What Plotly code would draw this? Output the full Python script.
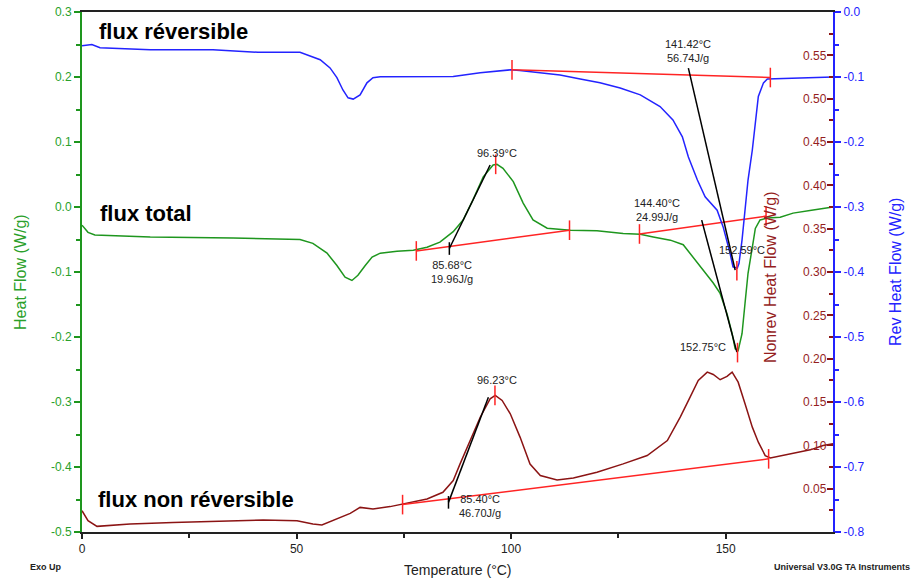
import plotly.graph_objects as go

# ---------------- data ----------------
rev_T = [0, 2.3, 4.2, 15.9, 30.5, 41.0, 50.8, 55.5, 57.8, 59.4, 60.8, 62.0, 63.2, 64.8, 66.4,
         67.8, 69.5, 86.5, 92.8, 97.4, 99.8, 102.0, 106.8, 111.4, 116.1, 120.7, 125.4, 130.1,
         134.7, 137.7, 139.9, 141.3, 143.4, 145.2, 148.0, 149.4, 151.0, 151.7, 152.7, 153.1,
         153.8, 154.5, 155.2, 156.2, 156.9, 157.6, 158.8, 159.7, 175.0]
rev_flow = [-0.052, -0.050, -0.055, -0.058, -0.058, -0.062, -0.062, -0.0735, -0.086, -0.101,
            -0.120, -0.132, -0.134, -0.1275, -0.109, -0.101, -0.0998, -0.0993, -0.0936, -0.090,
            -0.089, -0.090, -0.094, -0.097, -0.103, -0.109, -0.117, -0.1275, -0.1455, -0.166,
            -0.192, -0.223, -0.2585, -0.2843, -0.305, -0.3306, -0.371, -0.392, -0.394, -0.3865,
            -0.351, -0.3095, -0.2585, -0.2123, -0.1707, -0.130, -0.109, -0.103, -0.100]

total_T = [0, 1.4, 3.0, 15.9, 35.2, 50.8, 53.8, 57.1, 59.4, 61.3, 62.9, 64.3, 66.0, 67.6, 69.5,
           73.4, 77.2, 80.4, 83.4, 86.5, 88.8, 91.1, 93.5, 95.8, 96.7, 98.1, 100.5, 102.8, 105.1,
           108.4, 113.8, 120.0, 126.1, 130.1, 133.1, 137.1, 140.1, 142.4, 144.8, 147.1, 148.7,
           150.3, 151.5, 152.2, 152.9, 153.8, 154.5, 155.2, 156.2, 156.9, 158.0, 159.7, 162.7,
           165.7, 170.0, 175.0]
total_flow = [-0.028, -0.039, -0.043, -0.046, -0.0475, -0.050, -0.056, -0.071, -0.090, -0.108,
              -0.113, -0.105, -0.090, -0.077, -0.071, -0.068, -0.0665, -0.062, -0.054, -0.038,
              -0.020, 0.011, 0.0465, 0.0646, 0.0656, 0.0595, 0.039, 0.006, -0.020, -0.0326,
              -0.0357, -0.0367, -0.0407, -0.0418, -0.046, -0.051, -0.058, -0.0768, -0.097,
              -0.117, -0.133, -0.164, -0.195, -0.218, -0.221, -0.195, -0.148, -0.102, -0.062,
              -0.033, -0.020, -0.017, -0.0156, -0.0094, -0.005, 0.000]

nonrev_T = [0, 1.4, 3.5, 11.2, 21.2, 42.2, 50.1, 53.8, 55.9, 59.4, 62.5, 64.8, 67.8, 71.8, 74.8,
            80.4, 84.1, 86.5, 88.1, 90.4, 92.8, 95.1, 96.3, 97.9, 99.8, 102.1, 104.4, 106.8,
            110.7, 114.5, 120.0, 126.1, 131.7, 136.4, 139.4, 141.7, 143.6, 145.7, 147.1, 148.7,
            150.3, 151.5, 152.9, 154.5, 156.2, 157.6, 159.2, 160.4, 165.0, 169.7, 172.7, 175.0]
nonrev_flow = [0.0246, 0.0131, 0.0065, 0.0092, 0.0111, 0.0139, 0.0131, 0.0092, 0.0081, 0.015,
               0.0215, 0.0284, 0.0266, 0.0293, 0.0323, 0.0381, 0.0458, 0.0593, 0.0786, 0.1056,
               0.1324, 0.1537, 0.1576, 0.1518, 0.1364, 0.1092, 0.0784, 0.0651, 0.0601, 0.0624,
               0.0689, 0.0786, 0.0882, 0.1055, 0.1325, 0.1556, 0.1749, 0.1845, 0.1818, 0.1757,
               0.1795, 0.1845, 0.1729, 0.148, 0.121, 0.1036, 0.0882, 0.0855, 0.0902, 0.0948,
               0.0998, 0.1017]

# integration baselines (start/end) and tangents
rev_base_T, rev_base_v = [100.2, 160.4], [-0.089, -0.1008]
tot_base1_T, tot_base1_v = [77.9, 113.6], [-0.0676, -0.0357]
tot_base2_T, tot_base2_v = [129.9, 159.4], [-0.0415, -0.014]
nr_base_T, nr_base_v = [74.7, 160.0], [0.0316, 0.0844]

rev_tan_T, rev_tan_v = [141.3, 152.2], [-0.0863, -0.397]
tot_tan1_T, tot_tan1_v = [85.6, 95.1], [-0.0639, 0.0646]
tot_tan2_T, tot_tan2_v = [144.4, 152.6], [-0.0202, -0.2233]
nr_tan_T, nr_tan_v = [85.4, 94.7], [0.0342, 0.1556]

rev_peak = (152.6, -0.398)
tot_peaks_T, tot_peaks_v = [96.4, 152.75], [0.0656, -0.224]
nr_peak = (96.23, 0.1576)

left_ticks = [-0.5, -0.4, -0.3, -0.2, -0.1, 0.0, 0.1, 0.2, 0.3]
rev_ticks = [-0.8, -0.7, -0.6, -0.5, -0.4, -0.3, -0.2, -0.1, 0.0]
nonrev_ticks = [0.05, 0.10, 0.15, 0.20, 0.25, 0.30, 0.35, 0.40, 0.45, 0.50, 0.55]
x_ticks = [0, 50, 100, 150]

# ---------------- styles ----------------
GREEN = "#1E961E"
GREEN_TXT = "#2A9F2A"
BLUE = "#2323FF"
DRED = "#8B1414"
DRED_TXT = "#951E1E"
RED = "#FF2424"
FONT = "Liberation Sans"

fig = go.Figure()

def line(x, y, color, axis, w=1.5):
    fig.add_trace(go.Scatter(x=x, y=y, mode="lines", yaxis=axis,
                             line=dict(color=color, width=w), hoverinfo="skip"))

def ticks(x, y, color, axis, size=14):
    fig.add_trace(go.Scatter(x=x, y=y, mode="markers", yaxis=axis, hoverinfo="skip",
                             marker=dict(symbol="line-ns", size=size,
                                         line=dict(color=color, width=1.5))))

line(rev_T, rev_flow, BLUE, "y2")
line(total_T, total_flow, GREEN, "y")
line(nonrev_T, nonrev_flow, DRED, "y3")

line(rev_base_T, rev_base_v, RED, "y2")
line(tot_base1_T, tot_base1_v, RED, "y")
line(tot_base2_T, tot_base2_v, RED, "y")
line(nr_base_T, nr_base_v, RED, "y3")

line(rev_tan_T, rev_tan_v, "black", "y2")
line(tot_tan1_T, tot_tan1_v, "black", "y")
line(tot_tan2_T, tot_tan2_v, "black", "y")
line(nr_tan_T, nr_tan_v, "black", "y3")

ticks(rev_base_T + [rev_peak[0]], rev_base_v + [rev_peak[1]], RED, "y2")
ticks(tot_base1_T + tot_base2_T + tot_peaks_T, tot_base1_v + tot_base2_v + tot_peaks_v, RED, "y")
ticks(nr_base_T + [nr_peak[0]], nr_base_v + [nr_peak[1]], RED, "y3")
ticks([tot_tan1_T[0]], [tot_tan1_v[0]], "black", "y", 9)
ticks([nr_tan_T[0]], [nr_tan_v[0]], "black", "y3", 9)

fig.update_layout(
    width=914, height=579,
    margin=dict(l=82, r=81, t=12, b=47, autoexpand=False),
    plot_bgcolor="white", paper_bgcolor="white",
    showlegend=False,
    font=dict(family=FONT),
    xaxis=dict(range=[0, 175], tickmode="array", tickvals=x_ticks, automargin=False,
               ticks="outside", ticklen=5, tickwidth=1.5, tickcolor="#222",
               minor=dict(dtick=25, tick0=0, ticks="outside", ticklen=4, tickcolor="#222"),
               showline=True, linecolor="#222", linewidth=1.5, mirror=True,
               showgrid=False, zeroline=False,
               tickfont=dict(family=FONT, size=12, color="#222")),
    yaxis=dict(range=[-0.5, 0.3], tickmode="array", tickvals=left_ticks, automargin=False,
               ticktext=[f"{v:.1f}" for v in left_ticks],
               ticks="outside", ticklen=6, tickwidth=1.5, tickcolor=GREEN,
               minor=dict(dtick=0.05, tick0=0, ticks="outside", ticklen=4, tickcolor=GREEN),
               showline=True, linecolor=GREEN, linewidth=2,
               showgrid=False, zeroline=False,
               tickfont=dict(family=FONT, size=12, color=GREEN_TXT)),
    yaxis2=dict(range=[-0.8, 0.0], overlaying="y", side="right", anchor="x", automargin=False,
                tickmode="array", tickvals=rev_ticks,
                ticktext=[f"{v:.1f}" for v in rev_ticks],
                ticks="outside", ticklen=6, tickwidth=1.5, tickcolor=BLUE,
                minor=dict(dtick=0.05, tick0=0, ticks="outside", ticklen=4, tickcolor=BLUE),
                showline=True, linecolor=BLUE, linewidth=2,
                showgrid=False, zeroline=False,
                tickfont=dict(family=FONT, size=12, color=BLUE)),
    yaxis3=dict(range=[0.0, 0.6], overlaying="y", side="right", anchor="x", automargin=False,
                tickmode="array", tickvals=nonrev_ticks,
                ticktext=[f"{v:.2f}" for v in nonrev_ticks],
                ticks="inside", ticklabelposition="inside", ticklen=6, tickwidth=1.5,
                tickcolor=DRED,
                minor=dict(dtick=0.025, tick0=0, ticks="inside", ticklen=4, tickcolor=DRED),
                showline=False, showgrid=False, zeroline=False,
                tickfont=dict(family=FONT, size=12, color=DRED_TXT)),
)

ann = []
def txt(text, x, y, xref="paper", yref="paper", size=11, color="#222", xanchor="center",
        yanchor="middle", bold=False, angle=0):
    ann.append(dict(text=f"<b>{text}</b>" if bold else text, x=x, y=y, xref=xref, yref=yref,
                    showarrow=False, xanchor=xanchor, yanchor=yanchor, textangle=angle,
                    font=dict(family=FONT, size=size, color=color)))

# curve names
txt("flux réversible", 0.02, 0.962, size=22, color="black", xanchor="left", bold=True)
txt("flux total", 0.021, 0.612, size=22, color="black", xanchor="left", bold=True)
txt("flux non réversible", 0.018, 0.063, size=22, color="black", xanchor="left", bold=True)

# axis titles
txt("Heat Flow (W/g)", -0.0826, 0.5, size=16, color=GREEN_TXT, angle=-90)
txt("Nonrev Heat Flow (W/g)", 0.916, 0.49, size=16, color=DRED_TXT, angle=-90)
txt("Rev Heat Flow (W/g)", 1.0826, 0.5, size=16, color=BLUE, angle=-90)
txt("Temperature (°C)", 0.5, -0.0737, size=14, color="#222")
txt("Exo Up", -0.072, -0.068, size=9, color="#222", xanchor="left", bold=True)
txt("Universal V3.0G TA Instruments", 1.105, -0.068, size=9, color="#222",
    xanchor="right", bold=True)

# analysis labels
txt("141.42°C<br>56.74J/g", 141.3, -0.0597, "x", "y2")
txt("152.59°C", 153.8, -0.3665, "x", "y2")
txt("96.39°C", 96.7, 0.083, "x", "y")
txt("85.68°C<br>19.96J/g", 86.2, -0.0996, "x", "y")
txt("144.40°C<br>24.99J/g", 134.0, -0.0048, "x", "y")
txt("152.75°C", 150.6, -0.216, "x", "y", xanchor="right")
txt("96.23°C", 96.7, 0.1749, "x", "y3")
txt("85.40°C<br>46.70J/g", 87.4, 0.0298, "x", "y3", xanchor="left")

fig.update_layout(annotations=ann)
fig.write_html("out.html", config={"displayModeBar": False},
               post_script="document.body.style.margin='0';")
